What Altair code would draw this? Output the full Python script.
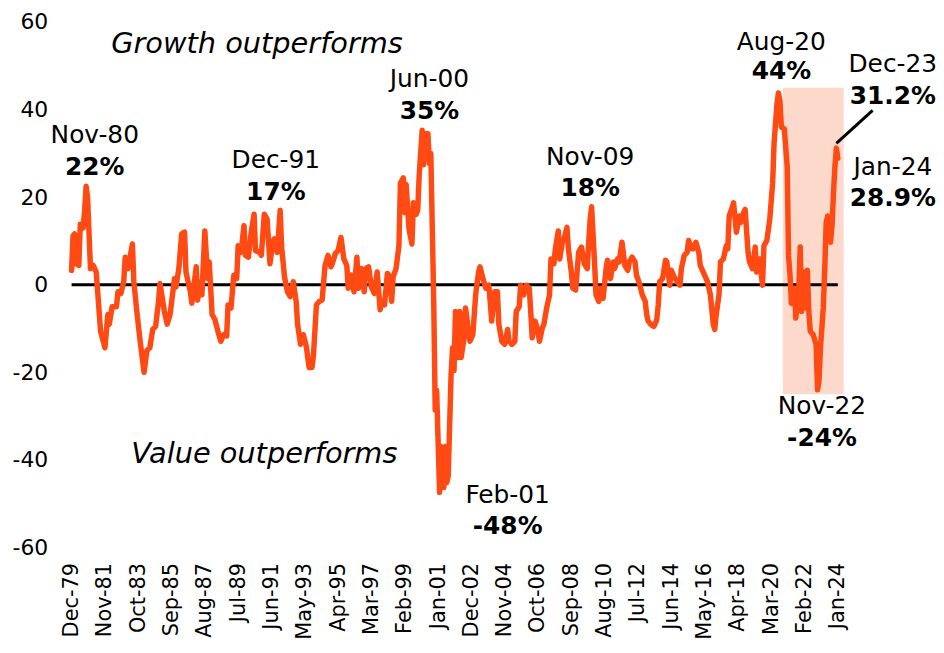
import altair as alt
import pandas as pd

# ---- data: months since Dec-79, and value (%) ----
months_a = [0, 1, 2, 3, 5, 6, 8, 9, 10, 11, 13, 15, 17, 18, 20, 23, 25, 26, 28, 31, 32, 34, 36, 37, 39, 42, 43,
            45, 47, 50, 52, 54, 56, 58, 60, 61, 64, 66, 68, 71, 72, 74, 76, 78, 79, 82, 83, 86, 87, 89, 90]
values_a = [3.3, 11.2, 11.6, 4.8, 4.4, 13.8, 13.0, 17, 22.5, 20, 3.7, 4.4, 2.9, -1.6, -10.6, -14.4, -6.8, -9, -5, -5,
            -1.6, -2, 0.7, 6.3, 3.7, 9.3, 0.7, -6, -12, -20, -15, -14.4, -10.2, -9.5, -3.8, 0.3, -6, -9, -6.8, 1.4,
            -0.5, 3.7, 11.6, 12, 2.9, -1.6, -4.2, 4.1, -3.5, 0.7, -2.3]

months_b = [92, 94, 95, 97, 99, 101, 103, 105, 107, 108, 110, 112, 114, 115, 117, 119, 120, 122, 124, 126, 127, 130,
            131, 133, 135, 137, 139, 140, 142, 144, 145, 147, 149, 151, 153, 155, 156, 158, 160, 162, 164, 166, 167,
            169, 171, 173, 175, 177, 179, 180, 182, 184, 186, 188, 190, 191, 193, 195, 197, 198, 200, 202, 203, 205,
            207, 209, 211, 213, 214, 216, 218, 219, 221, 222, 224, 226]
values_b = [12.3, 1.4, 5.2, -6.8, -8, -10.6, -12.9, -11.4, -11.7, -4.6, -5.3, 2.2, 1.4, 8.9, 7.4, 13.5, 6.7, 6.3, 12,
            16.1, 7.8, 7.4, 6.7, 16.1, 15, 4.8, 10, 10.5, 7.4, 17, 8.6, 1.8, -1.6, -2.7, 0.7, -3.8, -9, -13.6, -11.4,
            -14, -18.9, -18.9, -15.9, -4.6, -3.8, -3.5, 4.4, 6.7, 4.1, 4.8, 7.1, 7.8, 10.8, 5.9, 4.4, -0.8, 2.2, -1.6,
            6.3, -0.8, 3.7, -1.6, 3.7, 4.1, -0.5, -2, 2.9, -5.7, -3.8, -4.6, 2.6, 2.2, -3.8, 1.8, 3.7, 8.9]

months_c = [227, 229, 230, 231, 233, 235, 236, 238, 239, 240, 242, 243, 244, 246, 247, 248, 249, 250, 251, 252, 254,
            255, 257, 258, 259, 260, 262, 263, 264, 265, 267, 268, 269, 271, 272, 274, 275, 277, 279, 281, 282, 284,
            286, 288, 289, 290, 292, 294, 295, 297, 299, 301, 302, 304, 306, 307, 309, 310, 312, 314, 316, 317, 318,
            320, 322, 323, 325, 326, 328, 330, 331, 333, 334, 336, 337, 339, 340, 342, 343, 345, 346, 348, 350]
values_c = [23.2, 24.4, 16.5, 22.9, 12.7, 9.3, 18.7, 16.1, 17.2, 25.1, 35.3, 27.4, 34.5, 34.5, 27.7, 30, 12.7, -3.8,
            -28.6, -24.1, -47.4, -36.9, -46.3, -36.9, -45.2, -43.7, -20.4, -14.4, -19.6, -6.1, -16.6, -6.1, -16.6,
            -12.1, -5.3, -10.6, -12.9, -11.4, -2.3, 2.9, 4.1, 1.4, -0.8, -0.1, -3.8, -8.3, -1.6, -1.6, -9.1, -12.9,
            -13.6, -10.2, -12.9, -13.6, -12.9, -6.1, -5, -0.1, -2.3, -0.1, -0.8, -6.1, -12.1, -8.3, -10.6, -12.9,
            -9.8, -9.1, -5.3, -2.3, 5.9, 4.8, 8.2, 12.3, 5.9, 10.1, 10.5, 13.1, 8.2, 2.9, -0.8, -1.2, 7.4]

months_d = [352, 354, 356, 357, 358, 359, 361, 362, 364, 365, 367, 369, 370, 372, 374, 375, 377, 378, 380, 382, 384,
            385, 387, 389, 390, 392, 394, 396, 397, 398, 400, 402, 404, 405, 406, 408, 410, 411, 413, 414, 416, 418,
            420, 421, 423, 425, 426, 428, 429, 431, 433, 434, 437, 439, 441, 443, 444, 445, 447, 448, 450, 452, 453,
            454, 456, 457, 459, 461, 462, 464, 465, 467, 468, 470, 471, 472, 473, 475, 477, 478, 480, 482]
values_d = [8.6, 4.8, 3.7, 9.7, 15, 17.8, 5.2, -2.3, -3.8, -0.8, -3.1, 3.7, 5.6, 1.4, 5.2, 3.7, 5.9, 5.2, 9.7, 4.4,
            3.3, 5.2, 6.3, 5.2, 2.2, 0.3, -2.3, -3.8, -6.8, -8.3, -9.1, -9.5, -8, -4.6, 0.7, 1.4, 5.6, 5.2, -0.1, 3.3,
            1.8, 0.7, -0.1, 3.7, 6.7, 7.4, 10.1, 8.2, 8.2, 9.7, 7.4, 4.4, 2.2, 0.7, -2.3, -9.1, -10.2, -6.8, -2.3, 5.2,
            5.9, 8.9, 8.2, 15.7, 17.6, 18.7, 12, 15.7, 14.2, 16.5, 17.2, 7.4, 5.2, 3.7, 5.9, 8.6, 2.9, 5.9, -0.1,
            8.9, 10.1, 15]

months_e = [484, 485, 487, 488, 489, 490, 492, 494, 495, 496, 497, 499, 500, 502, 503, 504, 506, 507, 508, 509, 510,
            512, 514, 515, 516, 517, 519, 520, 521, 522, 524, 525, 526, 527, 528, 529]
values_e = [23.2, 32.3, 41.3, 43.8, 42, 36, 35.6, 27, 6.7, 2.2, -4.2, -0.8, -7.6, -1.6, 8.6, -6.1, 2.9, -5.3, 3.3,
            -6.1, -10.6, -11.4, -13.6, -24, -22, -14.4, -5.3, 3.7, 14.2, 15.7, 9.7, 13.5, 21, 27, 31.2, 28.9]

tick_labels = ["Dec-79", "Nov-81", "Oct-83", "Sep-85", "Aug-87", "Jul-89", "Jun-91", "May-93", "Apr-95", "Mar-97",
               "Feb-99", "Jan-01", "Dec-02", "Nov-04", "Oct-06", "Sep-08", "Aug-10", "Jul-12", "Jun-14", "May-16",
               "Apr-18", "Mar-20", "Feb-22", "Jan-24"]
y_ticks = [-60, -40, -20, 0, 20, 40, 60]

# annotations: (date, y, text)
date_notes = [("1981-04-01", 32.3, "Nov-80"), ("1991-09-01", 26.6, "Dec-91"), ("2000-07-01", 45.1, "Jun-00"),
              ("2009-10-01", 27.3, "Nov-09"), ("2020-10-01", 53.7, "Aug-20"), ("2027-03-01", 48.5, "Dec-23"),
              ("2027-03-01", 25.0, "Jan-24"), ("2005-01-01", -49.9, "Feb-01"), ("2023-02-01", -29.6, "Nov-22")]
pct_notes = [("1981-04-01", 25.0, "22%"), ("1991-09-01", 19.4, "17%"), ("2000-07-01", 37.9, "35%"),
             ("2009-10-01", 20.3, "18%"), ("2020-10-01", 46.9, "44%"), ("2027-03-01", 41.3, "31.2%"),
             ("2027-03-01", 18.0, "28.9%"), ("2005-01-01", -56.8, "-48%"), ("2023-02-01", -36.8, "-24%")]
side_notes = [("1990-08-01", 53.0, "Growth outperforms"), ("1991-01-01", -40.6, "Value outperforms")]

shade_x = ("2020-11-01", "2024-05-01")
shade_y = (45, -25)
leader_x = ("2023-12-01", "2026-01-01")
leader_y = (32.3, 39.8)

# ---- build tables ----
START = pd.Timestamp("1979-12-01")
months = months_a + months_b + months_c + months_d + months_e
values = values_a + values_b + values_c + values_d + values_e
assert len(months) == len(values)
df = pd.DataFrame({"date": [START + pd.DateOffset(months=m) for m in months], "value": values})

FONT = "DejaVu Sans"
DOMAIN = [alt.DateTime(year=1979, month=12, date=1), alt.DateTime(year=2024, month=5, date=1)]
xscale = alt.Scale(domain=DOMAIN)
yscale = alt.Scale(domain=[-60, 60], nice=False)

tick_dates = [pd.to_datetime(t, format="%b-%y") for t in tick_labels]
x_axis = alt.Axis(values=[alt.DateTime(year=d.year, month=d.month, date=1) for d in tick_dates],
                  format="%b-%y", labelAngle=-90, grid=False, domain=False, ticks=False,
                  labelPadding=15, labelFontSize=21, labelFont=FONT, labelColor="black",
                  labelOverlap=False, labelBound=False, title=None)
y_axis = alt.Axis(values=y_ticks, labelExpr="'' + datum.value", grid=False, domain=False, ticks=False,
                  labelPadding=24, labelFontSize=22, labelFont=FONT, labelColor="black", title=None)

shade_df = pd.DataFrame({"x1": [shade_x[0]], "x2": [shade_x[1]], "y1": [shade_y[0]], "y2": [shade_y[1]]})
zero_df = pd.DataFrame({"x1": [df["date"].iloc[0]], "x2": [df["date"].iloc[-1]], "y": [0]})
leader_df = pd.DataFrame({"x1": [leader_x[0]], "x2": [leader_x[1]], "y1": [leader_y[0]], "y2": [leader_y[1]]})


def notes_df(rows):
    return pd.DataFrame({"date": [r[0] for r in rows], "y": [r[1] for r in rows], "text": [r[2] for r in rows]})


def xenc(field):
    return alt.X(field, scale=xscale, axis=x_axis)


def yenc(field):
    return alt.Y(field, scale=yscale, axis=y_axis)


shade = alt.Chart(shade_df).mark_rect(color="#fdd9cc").encode(
    x=xenc("x1:T"), x2="x2:T", y=yenc("y1:Q"), y2="y2:Q",
)

zero = alt.Chart(zero_df).mark_rule(color="black", strokeWidth=3).encode(
    x=xenc("x1:T"), x2="x2:T", y=yenc("y:Q"),
)

base_line = alt.Chart(df).mark_line(color="#ff4a14", strokeWidth=5.5, strokeJoin="round", strokeCap="round").encode(
    x=xenc("date:T"), y=yenc("value:Q"),
)

leader = alt.Chart(leader_df).mark_rule(color="black", strokeWidth=3).encode(
    x=xenc("x1:T"), x2="x2:T", y=yenc("y1:Q"), y2="y2:Q",
)


def text_layer(rows, size, weight="normal", style="normal"):
    return alt.Chart(notes_df(rows)).mark_text(
        font=FONT, fontSize=size, fontWeight=weight, fontStyle=style, color="black",
        align="center", baseline="alphabetic"
    ).encode(
        x=xenc("date:T"), y=yenc("y:Q"), text="text:N",
    )


chart = alt.layer(
    shade, zero, base_line, leader,
    text_layer(date_notes, 25),
    text_layer(pct_notes, 25, weight="bold"),
    text_layer(side_notes, 29, style="italic"),
).properties(
    width=777, height=529,
    padding={"left": 64, "top": 12, "right": 93, "bottom": 92},
    autosize=alt.AutoSizeParams(type="none"),
).configure_view(stroke=None).configure_axisX(labelOverlap=False)

chart.save("out.html", embed_options={"renderer": "svg", "actions": False})
